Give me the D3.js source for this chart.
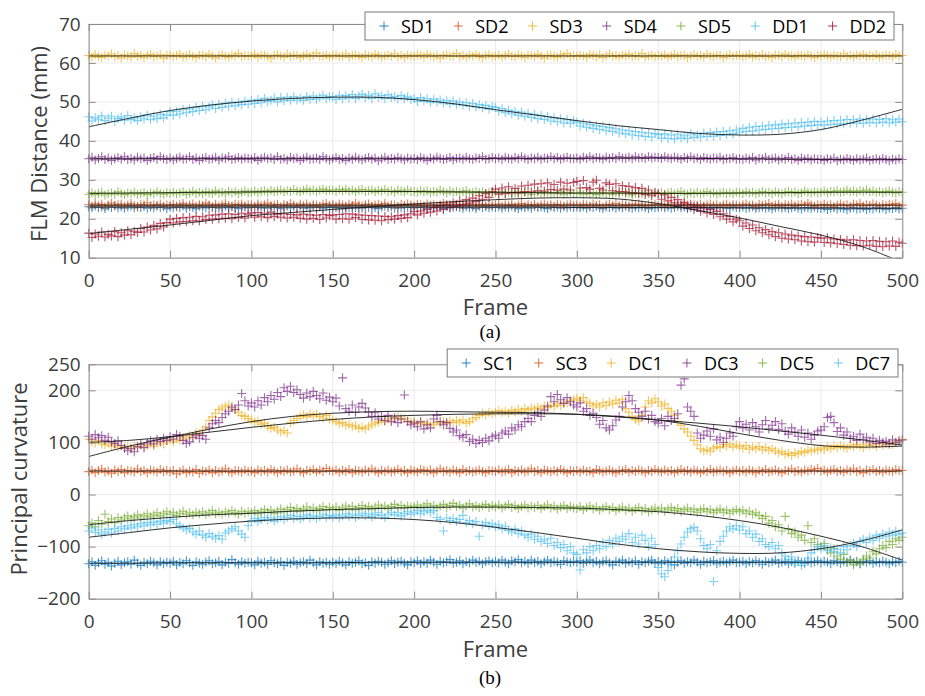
<!DOCTYPE html>
<html>
<head>
<meta charset="utf-8">
<script src="https://cdn.jsdelivr.net/npm/d3@7/dist/d3.min.js"></script>
<style>
  body { margin: 0; background: #fff; }
  text { font-family: "Open Sans", "Noto Sans", sans-serif; }
</style>
</head>
<body>
<svg id="chart" width="925" height="696"></svg>
<script>
// Samples are recorded every 2 frames (frame = index * frameStep)
const frameStep = 2;
// Polynomial fit curves are listed at these frames
const fitFrames = [0,25,50,75,100,125,150,175,200,225,250,275,300,325,350,375,400,425,450,475,500];

const xTicks = [0,50,100,150,200,250,300,350,400,450,500];
const distTicks = [10,20,30,40,50,60,70];
const curvTicks = [-200,-100,0,100,200,250];

// ---------- (a) FLM distances (mm) ----------
const sd1 = [
23.1,22.8,23.3,22.9,23.0,22.6,23.2,22.9,23.4,22.8,23.1,22.7,23.0,23.3,22.8,23.1,22.9,23.2,22.7,23.0,22.8,23.3,22.9,23.1,22.6,
23.0,22.8,23.2,22.9,23.3,22.7,23.1,22.9,22.6,23.2,23.0,22.8,23.3,22.9,23.1,22.7,23.0,23.2,22.8,23.1,22.9,22.6,23.2,23.0,22.8,
23.1,22.9,23.3,22.8,23.0,22.7,23.2,22.9,23.1,22.6,23.0,23.3,22.8,23.1,22.9,23.2,22.7,23.0,22.8,23.3,22.9,23.1,22.7,23.0,22.9,
23.2,22.8,23.0,22.6,23.1,22.9,23.3,22.8,23.0,22.7,23.2,22.9,23.1,22.8,22.6,23.0,23.2,22.9,23.1,22.7,23.0,22.8,23.3,22.9,23.0,
22.8,23.1,22.9,23.2,22.7,23.0,22.8,23.3,22.9,22.6,23.1,22.8,23.0,23.2,22.9,22.7,23.1,22.8,23.0,22.6,23.2,22.9,23.1,22.8,23.0,
22.9,23.1,22.7,23.0,22.8,23.2,22.9,22.6,23.1,22.8,23.0,22.7,23.2,22.9,23.0,22.8,22.6,23.1,22.9,23.0,22.7,23.2,22.8,23.0,22.9,
23.0,22.8,23.1,22.7,23.0,22.9,23.2,22.8,22.6,23.0,22.9,23.1,22.7,23.0,22.8,23.2,22.9,22.7,23.0,22.8,23.1,22.9,22.6,23.0,22.8,
22.9,23.1,22.8,23.0,22.7,22.9,23.2,22.8,23.0,22.6,22.9,23.1,22.8,22.7,23.0,22.9,22.6,23.1,22.8,22.9,23.0,22.7,22.8,23.1,22.9,
22.8,23.0,22.7,22.9,23.1,22.6,22.8,23.0,22.7,22.9,22.5,22.8,23.0,22.7,22.9,22.6,22.8,23.0,22.7,22.5,22.9,22.8,22.6,23.0,22.7,
22.6,22.8,22.4,22.7,22.9,22.5,22.8,22.6,22.3,22.7,22.9,22.5,22.6,22.8,22.4,22.7,22.5,22.9,22.6,22.8,22.4,22.7,22.6,22.9,22.5,
22.7];
const sd2 = [
23.6,23.2,23.9,23.4,23.7,23.1,23.5,24.0,23.3,23.6,23.8,23.2,23.5,23.9,23.4,23.1,23.7,23.5,24.1,23.3,23.6,23.4,23.8,23.2,23.5,
23.4,23.7,23.1,23.6,23.9,23.3,23.5,23.8,23.2,23.6,23.4,24.0,23.5,23.1,23.7,23.3,23.6,23.9,23.4,23.2,23.7,23.5,23.8,23.3,23.6,
23.5,23.2,23.8,23.4,23.6,24.0,23.3,23.5,23.7,23.1,23.6,23.4,23.9,23.5,23.2,23.7,23.4,23.8,23.3,23.6,23.5,23.1,23.7,23.9,23.4,
23.6,23.3,23.8,23.5,23.2,23.7,23.4,24.0,23.5,23.3,23.6,23.8,23.2,23.5,23.7,23.4,23.9,23.3,23.6,23.5,23.1,23.7,23.4,23.8,23.5,
23.3,23.7,23.5,23.2,23.8,23.4,23.6,23.1,23.5,23.9,23.4,23.6,23.2,23.7,23.5,23.3,23.8,23.4,23.6,23.0,23.5,23.7,23.3,23.6,23.4,
23.5,23.8,23.2,23.6,23.4,23.7,23.1,23.5,23.9,23.3,23.6,23.4,23.7,23.2,23.5,23.8,23.4,23.6,23.3,23.7,23.5,23.1,23.6,23.8,23.4,
23.6,23.3,23.7,23.5,23.2,23.8,23.4,23.6,23.1,23.5,23.7,23.4,23.9,23.3,23.6,23.5,23.2,23.7,23.4,23.8,23.5,23.3,23.6,23.4,23.7,
23.4,23.7,23.2,23.5,23.8,23.3,23.6,23.4,23.9,23.5,23.2,23.6,23.4,23.7,23.3,23.5,23.8,23.4,23.6,23.2,23.5,23.7,23.3,23.6,23.5,
23.3,23.6,23.8,23.4,23.5,23.1,23.7,23.4,23.6,23.9,23.3,23.5,23.7,23.2,23.6,23.4,23.8,23.3,23.5,23.7,23.4,24.0,23.5,23.2,23.6,
23.4,23.7,23.3,23.6,23.1,23.5,23.8,23.4,23.6,23.2,23.7,23.5,23.9,23.3,23.6,23.4,23.8,23.5,23.2,23.6,23.4,23.7,23.5,23.9,23.3,
23.5];
const sd3 = [
61.9,61.5,62.2,61.7,61.4,62.0,61.8,62.3,61.6,61.9,61.3,62.1,61.8,61.5,62.4,61.7,62.0,61.4,61.9,62.2,61.6,61.8,62.1,61.3,61.9,
62.0,61.6,61.9,62.3,61.5,61.8,62.1,61.7,61.4,62.0,61.9,61.6,62.2,61.8,61.3,61.9,62.1,61.7,61.5,62.0,61.8,62.4,61.6,61.9,61.7,
61.8,62.2,61.5,61.9,62.0,61.6,61.3,61.9,62.1,61.8,61.5,62.3,61.7,61.9,62.0,61.4,61.8,62.2,61.6,61.9,62.5,61.7,61.8,62.0,61.5,
61.9,62.1,61.6,61.8,62.3,61.5,61.9,62.0,61.7,61.4,62.1,61.8,61.6,62.2,61.9,61.5,61.8,62.0,61.7,62.3,61.6,61.9,61.4,62.0,61.8,
61.7,62.1,61.9,61.5,62.2,61.8,61.6,62.0,61.3,61.9,62.1,61.7,61.8,62.4,61.6,61.9,61.5,62.0,61.8,62.2,61.7,61.4,61.9,62.1,61.6,
61.8,62.0,61.5,61.9,62.3,61.7,61.6,62.1,61.8,61.4,62.0,61.9,61.6,62.2,61.8,61.3,61.9,62.0,61.7,61.5,62.1,61.8,62.4,61.6,61.9,
61.7,62.0,61.8,61.5,62.2,61.9,61.6,62.1,61.4,61.8,62.3,61.7,61.9,61.5,62.0,61.8,62.2,61.6,61.9,61.7,62.4,61.5,61.8,62.0,61.6,
61.9,61.7,62.1,61.5,61.8,62.2,61.6,61.9,62.0,61.4,61.8,62.1,61.7,61.9,61.5,62.3,61.8,61.6,62.0,61.9,61.4,61.8,62.1,61.7,61.9,
62.0,61.6,61.8,62.2,61.5,61.9,61.7,62.1,61.6,61.8,61.4,62.0,61.9,61.6,62.2,61.7,61.8,61.5,62.0,61.9,61.6,62.1,61.8,61.4,61.9,
61.7,62.1,61.9,61.5,62.0,61.8,61.6,62.3,61.7,61.9,61.5,62.0,61.8,62.2,61.6,61.9,61.7,62.1,61.5,61.8,62.0,61.9,61.6,62.2,61.8,
61.9];
const sd4 = [
35.4,35.8,35.1,35.5,35.9,35.2,35.6,35.0,35.4,35.7,35.3,35.9,35.2,35.5,35.1,35.8,35.4,35.6,35.0,35.5,35.7,35.3,35.9,35.4,35.2,
35.6,35.1,35.5,35.8,35.3,35.4,35.9,35.2,35.6,35.0,35.5,35.7,35.3,35.4,35.8,35.1,35.6,35.5,35.9,35.2,35.4,35.7,35.3,35.6,35.5,
35.3,35.7,35.0,35.5,35.8,35.4,35.6,35.2,35.9,35.3,35.5,35.1,35.7,35.4,35.6,35.0,35.5,35.8,35.3,35.4,35.6,35.2,35.9,35.5,35.1,
35.4,35.7,35.2,35.5,35.0,35.6,35.3,35.8,35.4,35.1,35.5,35.7,35.3,35.6,34.9,35.4,35.8,35.2,35.5,35.3,35.7,35.4,35.1,35.6,35.3,
35.5,35.2,35.7,35.4,35.0,35.6,35.3,35.8,35.5,35.2,35.4,35.7,35.1,35.5,35.6,35.3,35.8,35.4,35.2,35.6,35.5,35.9,35.3,35.4,35.7,
35.4,35.6,35.2,35.8,35.5,35.3,35.7,35.4,35.9,35.5,35.2,35.6,35.4,35.8,35.3,35.6,35.5,35.9,35.4,35.7,35.3,35.6,35.8,35.5,35.4,
35.6,35.3,35.8,35.5,35.9,35.4,35.7,35.6,35.3,35.8,35.5,35.7,35.4,36.0,35.6,35.5,35.8,35.4,35.9,35.6,35.7,35.5,35.9,35.6,35.8,
35.7,35.5,35.9,35.6,35.4,35.8,35.6,35.3,35.7,35.5,35.9,35.4,35.6,35.2,35.7,35.5,35.3,35.6,35.4,35.8,35.2,35.5,35.4,35.7,35.3,
35.4,35.2,35.6,35.3,35.7,35.1,35.5,35.4,35.8,35.2,35.4,35.6,35.1,35.5,35.3,35.7,35.2,35.4,35.0,35.6,35.3,35.5,35.1,35.4,35.2,
35.3,35.0,35.4,35.2,35.6,34.9,35.3,35.1,35.5,35.2,35.0,35.4,35.1,35.3,35.6,35.0,35.2,35.4,35.1,35.5,35.2,34.9,35.3,35.1,35.4,
35.2];
const sd5 = [
26.3,26.7,26.2,26.5,26.8,26.1,26.4,26.6,26.3,26.9,26.5,26.2,26.6,26.4,26.8,26.3,26.5,26.7,26.2,26.6,26.4,26.9,26.5,26.3,26.7,
26.5,26.8,26.4,26.7,26.9,26.3,26.6,27.0,26.5,26.8,26.4,26.9,26.7,26.5,27.1,26.6,26.8,26.4,27.0,26.7,26.9,26.5,26.8,27.1,26.7,
26.8,27.1,26.7,27.0,27.2,26.8,27.3,26.9,27.1,27.4,26.9,27.2,27.0,27.5,27.1,26.9,27.3,27.6,27.1,27.4,27.0,27.3,27.6,27.2,27.4,
27.3,27.0,27.5,27.2,27.6,27.1,27.4,26.9,27.3,27.5,27.0,27.2,27.4,26.9,27.3,27.1,27.5,27.0,27.2,26.8,27.3,27.1,26.9,27.4,27.0,
27.0,26.8,27.2,26.9,27.1,26.7,27.0,26.8,27.3,26.9,26.6,27.1,26.8,27.0,26.7,26.9,27.2,26.6,26.8,27.0,26.7,26.9,26.5,26.8,27.0,
26.7,26.5,26.9,26.6,26.8,26.4,26.7,27.0,26.5,26.8,26.6,26.3,26.7,26.9,26.5,26.6,26.8,26.4,26.7,26.5,26.9,26.3,26.6,26.8,26.5,
26.5,26.8,26.3,26.6,26.4,26.7,26.2,26.5,26.8,26.4,26.6,26.3,26.7,26.5,26.9,26.4,26.6,26.2,26.5,26.7,26.4,26.8,26.5,26.3,26.6,
26.5,26.7,26.3,26.6,26.8,26.4,26.6,26.9,26.5,26.3,26.7,26.5,26.8,26.4,26.6,26.9,26.5,26.7,26.3,26.6,26.8,26.5,26.7,26.4,26.8,
26.7,26.5,26.9,26.6,26.8,26.4,26.7,27.0,26.6,26.8,26.5,26.9,26.7,26.4,26.8,27.0,26.6,26.9,26.5,26.7,27.1,26.8,26.6,26.9,26.7,
26.8,27.1,26.7,27.0,26.9,27.2,26.8,27.0,27.3,26.9,27.1,26.8,27.2,27.0,27.4,26.9,27.1,26.8,27.0,26.7,26.9,27.1,26.8,26.6,26.9,
26.8];
const dd1 = [
46.2,45.1,45.9,45.4,46.4,45.2,45.8,46.3,45.0,45.7,46.1,45.3,46.5,45.5,45.9,45.2,46.2,45.6,46.6,45.4,46.3,45.7,46.8,45.9,46.6,
47.5,46.6,47.6,46.9,48.1,47.2,48.2,47.5,48.6,47.8,48.9,48.0,48.7,49.2,48.3,49.4,48.6,49.7,48.9,49.9,49.0,49.8,49.3,50.2,49.4,
50.4,49.6,50.6,49.8,50.9,50.1,50.4,51.0,50.0,51.1,50.3,51.2,50.4,51.3,50.5,51.0,50.4,51.4,50.6,51.5,50.7,51.2,51.7,50.8,51.4,
51.3,50.6,51.7,50.8,51.6,51.0,51.9,50.9,51.5,52.0,51.1,51.7,50.9,52.1,51.2,51.6,50.9,51.8,51.1,51.4,50.8,51.6,50.9,51.3,50.6,
50.9,50.1,51.1,50.2,50.8,49.9,50.7,50.0,50.5,49.7,50.3,49.5,50.2,49.4,49.9,49.2,49.8,48.9,49.6,48.7,49.3,48.5,49.1,48.2,48.8,
48.6,47.6,48.3,47.2,47.9,46.9,47.6,46.6,47.4,46.3,47.1,46.0,46.8,45.7,46.5,45.5,46.2,45.1,45.9,44.9,45.7,44.6,45.4,44.5,45.2,
44.8,43.8,44.5,43.5,44.2,43.2,43.9,42.9,43.7,42.6,43.4,42.4,43.1,42.0,42.8,41.8,42.6,41.5,42.4,41.3,42.2,41.1,42.0,41.0,41.9,
41.6,40.7,41.8,40.6,41.5,40.5,41.7,40.7,41.3,40.6,41.8,40.9,41.5,41.0,42.0,41.1,42.1,41.2,42.3,41.4,42.4,41.6,42.6,41.8,42.8,
42.2,43.2,42.4,43.5,42.5,43.7,42.8,43.8,42.9,44.0,43.1,44.1,43.2,44.3,43.4,44.4,43.5,44.6,43.6,44.7,43.8,44.8,43.9,45.0,44.1,
44.9,44.0,45.1,44.2,45.2,44.3,45.3,44.4,45.5,44.5,45.4,44.6,45.6,44.5,45.4,44.7,45.6,44.6,45.5,44.8,45.7,44.6,45.4,44.8,45.6,
44.9];
const dd2 = [
16.3,15.2,16.1,15.5,16.6,15.3,16.0,15.6,16.7,15.4,16.4,15.8,16.9,15.9,16.8,16.5,17.5,16.6,17.9,17.1,18.3,17.4,18.8,17.9,19.0,
19.9,18.9,20.1,19.2,20.3,19.3,20.4,19.5,20.6,19.4,20.5,19.8,20.9,19.9,21.0,20.0,21.2,20.1,21.3,20.0,21.1,20.3,21.4,20.2,21.2,
21.5,20.4,21.6,20.5,21.4,20.3,21.7,20.6,21.2,20.4,21.3,20.2,21.1,20.4,21.0,20.1,21.2,19.9,21.0,20.1,20.9,19.8,21.1,20.2,20.8,
21.0,19.9,21.1,20.0,21.3,19.9,21.2,20.3,21.0,19.8,20.9,19.7,20.8,19.6,20.7,19.5,20.6,19.8,20.5,19.9,20.8,20.1,21.0,20.3,21.3,
21.8,21.0,22.0,21.4,22.4,21.7,22.9,22.0,23.3,22.4,23.6,22.9,24.1,23.2,24.5,23.6,24.9,24.0,25.3,24.4,25.9,25.0,26.4,25.5,26.9,
27.6,26.3,27.9,26.5,28.2,26.7,27.8,26.6,28.4,27.0,28.6,26.9,28.9,27.2,29.0,27.1,29.2,27.5,28.8,27.3,29.4,27.6,29.1,27.4,29.3,
29.6,27.9,29.8,28.0,27.6,29.4,29.9,27.8,27.4,29.2,28.8,27.2,29.0,27.0,28.5,26.9,28.3,26.7,28.0,26.5,27.8,26.2,27.4,25.9,26.8,
26.4,25.0,26.1,24.6,25.5,24.1,24.9,23.5,24.2,22.9,23.7,22.4,23.2,21.9,22.8,21.5,22.4,21.1,21.9,20.5,21.3,19.9,20.6,19.2,19.9,
19.5,18.1,18.9,17.5,18.4,16.9,17.7,16.4,17.2,15.9,16.7,15.4,16.4,15.0,16.1,14.8,15.8,14.6,15.6,14.3,15.4,14.1,15.3,14.0,15.2,
15.0,13.9,15.1,13.8,14.8,13.6,14.7,13.4,14.5,13.2,14.6,13.1,14.4,13.0,14.3,13.2,14.4,12.9,14.2,12.8,14.1,13.0,14.3,12.9,14.0,
13.7];

const fitSD1 = [23.0,23.0,23.0,23.0,23.0,23.0,23.0,23.0,23.0,23.0,23.0,23.0,22.9,22.9,22.9,22.9,22.8,22.8,22.8,22.7,22.7];
const fitSD2 = [23.5,23.5,23.5,23.5,23.5,23.5,23.5,23.5,23.5,23.5,23.5,23.5,23.5,23.5,23.5,23.5,23.5,23.5,23.5,23.5,23.5];
const fitSD3 = [61.8,61.8,61.8,61.8,61.8,61.8,61.8,61.8,61.8,61.8,61.8,61.8,61.8,61.8,61.8,61.8,61.8,61.8,61.8,61.8,61.8];
const fitSD4 = [35.4,35.4,35.4,35.4,35.4,35.4,35.4,35.4,35.4,35.4,35.5,35.5,35.5,35.6,35.6,35.5,35.4,35.3,35.2,35.2,35.2];
const fitSD5 = [26.5,26.6,26.7,26.8,26.9,27.0,27.0,27.0,27.0,26.9,26.8,26.7,26.6,26.6,26.5,26.5,26.6,26.7,26.8,26.8,26.8];
const fitDD1 = [43.6,45.8,47.8,49.2,50.2,50.9,51.2,51.2,50.6,49.5,48.0,46.6,45.2,43.9,42.9,41.9,41.5,41.7,42.9,45.3,48.1];
const fitDD2 = [16.2,17.3,18.4,19.6,20.8,21.6,22.4,23.1,23.8,24.4,24.9,25.3,25.4,25.1,23.9,22.1,20.2,18.0,15.8,12.9,8.8];

// ---------- (b) principal curvature ----------
const sc1 = [
-133,-129,-136,-131,-127,-134,-130,-137,-132,-128,-135,-131,-129,-134,-126,-132,-136,-130,-133,-128,-131,-135,-129,-133,-130,
-132,-128,-135,-130,-133,-127,-131,-136,-129,-132,-134,-130,-127,-133,-131,-128,-135,-130,-132,-125,-131,-134,-129,-132,-130,
-131,-135,-128,-132,-130,-134,-127,-131,-133,-129,-136,-130,-132,-128,-134,-131,-129,-133,-126,-131,-135,-129,-132,-130,-134,
-130,-133,-128,-131,-135,-129,-132,-130,-127,-133,-131,-136,-129,-132,-128,-130,-134,-131,-127,-133,-130,-128,-132,-135,-129,
-131,-127,-133,-129,-132,-126,-130,-134,-128,-131,-129,-125,-132,-130,-127,-133,-129,-131,-126,-130,-128,-133,-129,-127,-131,
-128,-131,-126,-130,-133,-127,-129,-125,-131,-128,-132,-126,-130,-128,-133,-129,-126,-131,-128,-130,-134,-127,-129,-131,-128,
-130,-127,-132,-129,-126,-131,-128,-133,-129,-127,-131,-135,-128,-130,-126,-132,-129,-131,-127,-134,-129,-131,-128,-126,-132,
-129,-133,-127,-131,-128,-135,-130,-127,-132,-129,-131,-126,-130,-134,-128,-131,-129,-127,-133,-130,-128,-132,-129,-126,-131,
-130,-128,-133,-129,-131,-127,-130,-134,-128,-131,-129,-126,-132,-130,-128,-133,-129,-131,-127,-130,-132,-128,-131,-129,-127,
-131,-128,-130,-133,-127,-129,-132,-128,-130,-126,-131,-129,-133,-128,-130,-127,-132,-129,-131,-128,-130,-133,-129,-131,-128,
-130];
const sc3 = [
44,47,42,46,49,43,45,41,47,44,48,42,46,45,43,49,44,46,42,47,45,43,48,44,46,
43,46,40,44,47,42,45,43,48,41,45,44,47,42,46,43,45,49,44,42,46,45,43,47,44,
45,42,47,44,46,43,48,45,42,46,44,47,43,45,49,44,42,46,45,48,43,47,44,50,46,
45,47,43,46,44,48,42,46,45,43,47,44,49,45,42,46,44,47,43,45,48,44,46,42,47,
45,43,48,46,44,47,42,45,49,44,46,43,47,45,42,48,44,46,43,45,47,44,42,46,45,
44,47,43,45,48,42,46,44,47,43,45,49,44,46,42,47,45,43,46,44,48,45,42,46,44,
46,43,47,44,45,42,48,46,43,45,47,44,42,46,45,48,43,46,44,47,45,42,46,44,48,
45,43,47,44,46,42,45,48,44,46,43,47,45,42,46,44,48,43,45,47,44,46,42,45,47,
44,46,43,47,45,42,46,44,48,43,45,47,44,42,46,45,49,44,46,43,47,45,48,46,50,
45,47,43,46,48,44,46,43,47,45,49,44,46,42,47,45,48,44,46,43,47,45,44,48,46,
46];
const dc1 = [
106,101,99,104,97,95,99,93,96,91,94,89,92,88,93,90,95,91,94,97,93,99,101,97,103,
105,101,108,104,110,107,113,109,118,115,124,130,142,149,156,163,166,170,172,166,163,158,152,150,146,
143,139,141,135,137,131,127,129,124,120,123,118,138,142,146,150,153,149,155,151,154,150,147,152,145,
143,140,136,138,133,135,130,132,127,129,126,131,134,137,139,142,140,145,143,147,149,144,146,141,139,
140,136,138,134,137,133,135,139,136,140,137,141,138,142,139,143,137,140,145,148,152,156,153,158,155,
158,161,157,160,156,162,159,163,160,165,162,166,164,168,165,170,167,172,169,174,171,177,175,180,182,
185,181,186,178,175,170,173,168,176,171,178,174,181,176,183,165,158,150,144,141,152,168,180,176,184,
178,170,174,165,160,152,140,133,126,120,112,104,95,88,84,86,83,89,92,90,96,93,97,91,95,
93,89,94,87,91,88,92,86,90,85,88,84,80,83,77,79,75,80,78,83,81,85,83,87,85,
89,86,91,88,93,90,94,91,89,95,92,96,93,90,97,94,96,92,98,95,97,99,96,101,103,
106];
const dc3 = [
112,106,115,109,113,104,110,101,98,103,94,89,84,88,82,92,96,90,99,103,97,106,102,108,104,
111,106,115,112,104,98,101,110,114,108,113,106,128,136,142,138,148,155,160,168,163,172,194,180,170,
176,168,180,172,186,178,190,183,196,188,205,198,208,196,201,192,185,195,188,198,190,184,195,181,187,
178,185,170,224,165,160,172,158,168,175,166,158,150,157,145,150,142,152,140,147,138,145,191,140,134,
137,130,140,126,134,128,145,152,140,134,138,127,120,124,113,110,115,102,106,98,104,100,108,103,111,
114,108,118,122,116,128,124,134,130,140,146,140,152,158,150,162,170,188,178,192,182,175,186,178,172,
168,176,160,165,152,156,148,135,142,128,124,132,143,150,168,178,190,180,165,158,150,160,145,152,140,
137,146,132,150,142,146,155,210,222,168,160,150,118,108,114,122,112,126,105,110,100,108,118,112,130,
140,128,135,124,138,130,120,134,142,126,133,140,125,136,122,116,128,120,112,124,110,118,106,114,122,
124,130,148,150,138,121,128,114,120,108,112,104,116,106,110,101,108,98,104,100,102,97,105,100,103,
105];
const dc5 = [
-60,-55,-62,-50,-57,-38,-52,-47,-54,-44,-49,-45,-41,-47,-43,-39,-45,-41,-37,-43,-39,-35,-41,-37,-33,
-38,-34,-40,-36,-32,-38,-35,-39,-34,-37,-33,-38,-35,-31,-37,-34,-38,-33,-36,-31,-35,-38,-32,-36,-33,
-35,-31,-37,-33,-29,-34,-30,-36,-32,-28,-33,-29,-25,-31,-27,-32,-28,-24,-30,-26,-31,-27,-23,-29,-25,
-28,-24,-30,-26,-22,-27,-23,-29,-25,-21,-26,-23,-28,-24,-20,-26,-22,-27,-23,-19,-25,-21,-26,-22,-24,
-23,-20,-26,-22,-18,-24,-21,-26,-22,-19,-25,-21,-17,-23,-20,-26,-22,-18,-24,-21,-25,-22,-19,-25,-21,
-24,-20,-26,-22,-19,-25,-21,-27,-23,-20,-26,-22,-25,-21,-27,-23,-20,-26,-22,-28,-24,-21,-27,-23,-26,
-27,-23,-29,-25,-22,-28,-24,-30,-26,-23,-29,-25,-31,-27,-24,-30,-26,-32,-28,-25,-31,-27,-33,-29,-26,
-30,-26,-32,-28,-25,-31,-27,-33,-29,-26,-32,-28,-34,-30,-27,-33,-29,-35,-31,-28,-34,-30,-36,-32,-29,
-33,-30,-36,-32,-38,-35,-40,-46,-42,-55,-50,-62,-58,-70,-42,-66,-75,-72,-82,-78,-88,-60,-92,-85,-96,
-100,-94,-106,-112,-104,-118,-124,-115,-130,-126,-135,-128,-133,-124,-118,-122,-110,-114,-104,-98,-102,-90,-96,-85,-88,
-82];
const dc7 = [
-70,-64,-73,-68,-76,-72,-67,-74,-65,-70,-62,-66,-60,-64,-58,-62,-56,-60,-54,-58,-53,-57,-51,-55,-50,
-52,-48,-56,-60,-64,-68,-65,-72,-76,-70,-78,-82,-75,-80,-84,-79,-86,-74,-70,-66,-62,-70,-76,-82,-60,
-50,-46,-52,-48,-44,-49,-45,-51,-47,-43,-48,-44,-40,-46,-42,-47,-43,-39,-45,-41,-46,-42,-38,-44,-40,
-43,-39,-45,-41,-37,-42,-38,-44,-40,-36,-41,-37,-43,-39,-35,-40,-44,-38,-34,-39,-35,-41,-37,-33,-38,
-35,-31,-37,-33,-30,-34,-31,-44,-48,-70,-45,-50,-46,-52,-48,-40,-54,-50,-56,-52,-80,-58,-54,-60,-56,
-62,-58,-66,-61,-69,-72,-66,-75,-70,-78,-82,-76,-86,-80,-90,-86,-94,-84,-98,-92,-102,-96,-108,-100,-112,
-115,-145,-106,-112,-100,-108,-98,-104,-92,-100,-88,-96,-84,-90,-80,-86,-75,-92,-82,-95,-78,-88,-100,-84,-96,
-140,-152,-158,-146,-135,-120,-108,-95,-82,-72,-66,-63,-70,-85,-98,-104,-96,-167,-108,-90,-80,-70,-62,-66,-60,
-68,-62,-75,-70,-82,-76,-90,-85,-96,-100,-92,-104,-98,-112,-118,-125,-120,-132,-128,-136,-130,-122,-112,-106,-100,
-104,-98,-108,-102,-110,-105,-112,-100,-106,-98,-94,-100,-90,-86,-92,-82,-88,-78,-84,-76,-80,-72,-78,-70,-76,
-74];

const fitSC1 = [-132,-132,-131,-131,-131,-131,-131,-130,-130,-130,-130,-130,-130,-130,-130,-130,-130,-130,-130,-130,-130];
const fitSC3 = [45,45,45,45,45,45,45,45,45,45,45,45,45,45,45,45,45,45,45,45,45];
const fitDC1 = [100,104,111,120,129,137,144,149,152,154,155,155,154,150,143,131,117,104,94,91,93];
const fitDC3 = [73,93,110,126,140,150,156,159,160,159,158,157,154,149,143,137,130,122,114,105,95];
const fitDC5 = [-58,-50,-44,-39,-36,-32,-29,-27,-25,-24,-24,-25,-26,-29,-33,-40,-50,-63,-80,-100,-126];
const fitDC7 = [-82,-73,-64,-57,-51,-47,-45,-45,-48,-54,-63,-73,-84,-95,-104,-110,-113,-112,-104,-89,-68];

const C = {blue:"#0072BD", orange:"#D95319", yellow:"#EDB120", purple:"#7E2F8E",
           green:"#77AC30", cyan:"#4DBEEE", red:"#A2142F"};

const panels = [
  {
    id: "a", top: 24, bottom: 257.7, domain: [10, 70], yTicks: distTicks,
    yLabel: "FLM Distance (mm)", yLabelX: 47, yLabelY: 144,
    caption: "(a)", captionY: 337.5, frameY: 315,
    legendTop: 12, legendRight: 894,
    series: [
      {name:"SD1", color:C.blue,   values:sd1, fit:fitSD1},
      {name:"SD2", color:C.orange, values:sd2, fit:fitSD2},
      {name:"SD3", color:C.yellow, values:sd3, fit:fitSD3},
      {name:"SD4", color:C.purple, values:sd4, fit:fitSD4},
      {name:"SD5", color:C.green,  values:sd5, fit:fitSD5},
      {name:"DD1", color:C.cyan,   values:dd1, fit:fitDD1},
      {name:"DD2", color:C.red,    values:dd2, fit:fitDD2}
    ]
  },
  {
    id: "b", top: 364.3, bottom: 598.7, domain: [-200, 250], yTicks: curvTicks,
    yLabel: "Principal curvature", yLabelX: 27, yLabelY: 479,
    caption: "(b)", captionY: 684, frameY: 657,
    legendTop: 349, legendRight: 898,
    series: [
      {name:"SC1", color:C.blue,   values:sc1, fit:fitSC1},
      {name:"SC3", color:C.orange, values:sc3, fit:fitSC3},
      {name:"DC1", color:C.yellow, values:dc1, fit:fitDC1},
      {name:"DC3", color:C.purple, values:dc3, fit:fitDC3},
      {name:"DC5", color:C.green,  values:dc5, fit:fitDC5},
      {name:"DC7", color:C.cyan,   values:dc7, fit:fitDC7}
    ]
  }
];

const svg = d3.select("#chart");
const LEFT = 88.7, RIGHT = 902.3;
const AXIS_GRAY = "#8c8c8c", LABEL_GRAY = "#3c3c3c", GRID = "#ebebeb";
const R = 4.5; // half-size of the plus markers
const plus = `M${-R},0H${R}M0,${-R}V${R}`;

panels.forEach(p => {
  const g = svg.append("g");
  const x = d3.scaleLinear().domain([0, 500]).range([LEFT, RIGHT]);
  const y = d3.scaleLinear().domain(p.domain).range([p.bottom, p.top]);

  // grid
  g.append("g").selectAll("line").data(xTicks).join("line")
    .attr("x1", d => x(d)).attr("x2", d => x(d))
    .attr("y1", p.top).attr("y2", p.bottom)
    .attr("stroke", GRID).attr("stroke-width", 1);
  g.append("g").selectAll("line").data(p.yTicks).join("line")
    .attr("x1", LEFT).attr("x2", RIGHT)
    .attr("y1", d => y(d)).attr("y2", d => y(d))
    .attr("stroke", GRID).attr("stroke-width", 1);

  // scatter markers
  p.series.forEach(s => {
    g.append("g")
      .attr("stroke", s.color).attr("stroke-width", 1.1).attr("stroke-opacity", 0.72)
      .attr("fill", "none")
      .selectAll("path").data(s.values).join("path")
      .attr("transform", (v, i) => `translate(${x(i * frameStep)},${y(v)})`)
      .attr("d", plus);
  });

  // fitted curves, clipped to the axes
  const clipId = "clip-" + p.id;
  svg.append("clipPath").attr("id", clipId).append("rect")
    .attr("x", LEFT).attr("y", p.top)
    .attr("width", RIGHT - LEFT).attr("height", p.bottom - p.top);
  const line = d3.line()
    .x((d, i) => x(fitFrames[i]))
    .y(d => y(d))
    .curve(d3.curveCatmullRom);
  g.append("g").attr("clip-path", `url(#${clipId})`)
    .selectAll("path").data(p.series).join("path")
    .attr("d", s => line(s.fit))
    .attr("fill", "none").attr("stroke", "#1a1a1a").attr("stroke-width", 0.9);

  // axes (ticks point inward, box on all four sides)
  const styleAxis = sel => {
    sel.select(".domain").attr("stroke", AXIS_GRAY);
    sel.selectAll(".tick line").attr("stroke", AXIS_GRAY);
    sel.selectAll(".tick text").attr("fill", LABEL_GRAY)
      .style("font-size", "19px").style("font-family", '"Open Sans", sans-serif');
  };
  g.append("g").attr("transform", `translate(0,${p.bottom})`)
    .call(d3.axisBottom(x).tickValues(xTicks).tickSizeInner(-7).tickSizeOuter(0).tickPadding(16))
    .call(styleAxis);
  g.append("g").attr("transform", `translate(0,${p.top})`)
    .call(d3.axisTop(x).tickValues(xTicks).tickSizeInner(-7).tickSizeOuter(0).tickFormat(""))
    .call(styleAxis);
  g.append("g").attr("transform", `translate(${LEFT},0)`)
    .call(d3.axisLeft(y).tickValues(p.yTicks).tickSizeInner(-7).tickSizeOuter(0).tickPadding(8))
    .call(styleAxis);
  g.append("g").attr("transform", `translate(${RIGHT},0)`)
    .call(d3.axisRight(y).tickValues(p.yTicks).tickSizeInner(-7).tickSizeOuter(0).tickFormat(""))
    .call(styleAxis);

  // axis titles and caption
  g.append("text")
    .attr("x", (LEFT + RIGHT) / 2).attr("y", p.frameY)
    .attr("text-anchor", "middle").attr("fill", LABEL_GRAY)
    .style("font-size", "22px").text("Frame");
  g.append("text")
    .attr("transform", `translate(${p.yLabelX},${p.yLabelY}) rotate(-90)`)
    .attr("text-anchor", "middle").attr("fill", LABEL_GRAY)
    .style("font-size", "22px").text(p.yLabel);
  g.append("text")
    .attr("x", 490).attr("y", p.captionY)
    .attr("text-anchor", "middle").attr("fill", "#000")
    .style("font-family", '"Liberation Serif", "Times New Roman", serif')
    .style("font-size", "19px").text(p.caption);

  // legend
  const lg = g.append("g");
  const box = lg.append("rect").attr("fill", "#fff").attr("stroke", "#7a7a7a").attr("stroke-width", 1);
  let cx = 19;
  p.series.forEach(s => {
    lg.append("path").attr("d", plus)
      .attr("transform", `translate(${cx},14)`)
      .attr("stroke", s.color).attr("stroke-width", 1).attr("stroke-opacity", 0.85);
    const t = lg.append("text").attr("x", cx + 17).attr("y", 21.3)
      .attr("fill", "#000").style("font-size", "18px").text(s.name);
    const w = t.node().getComputedTextLength();
    cx = cx + 17 + w + 24;
  });
  const boxW = cx - 24 + 8;
  box.attr("x", 0).attr("y", 0).attr("width", boxW).attr("height", 28);
  lg.attr("transform", `translate(${p.legendRight - boxW},${p.legendTop})`);
});
</script>
</body>
</html>
